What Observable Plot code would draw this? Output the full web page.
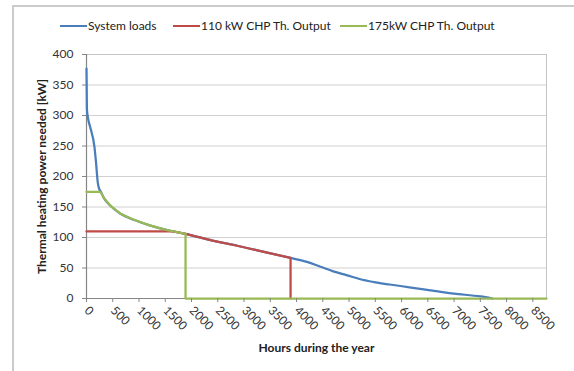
<!DOCTYPE html>
<html><head><meta charset="utf-8">
<script src="https://cdn.jsdelivr.net/npm/d3@7"></script>
<script src="https://cdn.jsdelivr.net/npm/@observablehq/plot@0.6"></script>
<style>
body{margin:0;background:#fff;}
#wrap{position:relative;width:574px;height:371px;overflow:hidden;font-family:Lato, sans-serif;}
#frame{position:absolute;left:12px;top:5px;width:600px;height:400px;border:2px solid #cbcbcb;}
.leg{position:absolute;top:19px;font-size:12px;line-height:14px;color:#222;display:flex;align-items:center;white-space:nowrap}
.leg i{display:inline-block;width:27px;height:2.5px;margin-right:1px}
#chart{position:absolute;left:0;top:0}
</style></head>
<body>
<div id="wrap">
  <div id="frame"></div>
  <div id="chart"></div>
  <div id="legend"></div>
</div>
<script>
// Series names and colours
const seriesNames = ["System loads", "110 kW CHP Th. Output", "175kW CHP Th. Output"];
const seriesColors = ["#4a7ebb", "#be4b48", "#98b954"];

// System loads (load duration curve)
const loadHours = [0, 8, 30, 70, 152, 178, 215, 240, 267, 330, 457, 648, 901, 1219, 1537, 1886, 2400, 2870, 3400, 3886, 4200, 4457, 4700, 4965, 5200, 5473, 5981, 6489, 6997, 7505, 7727];
const loadKW    = [377, 310, 295, 281, 248, 226, 190, 180, 176, 165, 152, 139, 129, 119.5, 112, 106, 95, 86.5, 76, 66.5, 60, 52, 44.5, 38, 32, 27, 20.5, 14, 8, 3.3, 0];

// 110 kW CHP thermal output
const chp110Hours = [0, 1650, 1886, 2400, 2870, 3400, 3886, 3886];
const chp110KW    = [110, 110, 106, 95, 86.5, 76, 66.5, 0];

// 175 kW CHP thermal output
const chp175Hours = [0, 267, 330, 457, 648, 901, 1219, 1537, 1886, 1886, 8760];
const chp175KW    = [175, 175, 165, 152, 139, 129, 119.5, 112, 106, 0, 0];

// Axis ticks
const xTicks = d3.range(0, 8501, 500);
const yTicks = d3.range(0, 401, 50);
const xTitle = "Hours during the year";
const yTitle = "Thermal heating power needed [kW]";

const zip = (h, v) => h.map((d, i) => ({h: d, v: v[i]}));
const load = zip(loadHours, loadKW);
const c110 = zip(chp110Hours, chp110KW);
const c175 = zip(chp175Hours, chp175KW);

const chart = Plot.plot({
  width: 574, height: 371,
  marginLeft: 86, marginRight: 28, marginTop: 54, marginBottom: 73,
  style: {fontFamily: "Lato, sans-serif", fontSize: "12px", color: "#333", background: "transparent"},
  x: {domain: [0, 8760]},
  y: {domain: [0, 400]},
  marks: [
    Plot.gridY(yTicks, {stroke: "#d0d0d0", strokeOpacity: 1}),
    Plot.frame({stroke: "#c4c4c4"}),
    Plot.ruleX([0], {stroke: "#868686", strokeWidth: 1.2}),
    Plot.ruleY([0], {stroke: "#868686", strokeWidth: 1.2}),
    Plot.line(load, {x: "h", y: "v", stroke: seriesColors[0], strokeWidth: 2.25, curve: "monotone-x"}),
    Plot.line(c110, {x: "h", y: "v", stroke: seriesColors[1], strokeWidth: 2.25}),
    Plot.line(c175, {x: "h", y: "v", stroke: seriesColors[2], strokeWidth: 2.25}),
    Plot.axisY({ticks: yTicks, tickSize: 4, tickPadding: 9, stroke: "#868686", label: null, fill: "#333"}),
    Plot.axisX({ticks: xTicks, tickSize: 4, tickRotate: 45, tickPadding: 6, tickFormat: d => String(d), stroke: "#868686", label: null, fill: "#333"}),
    Plot.text([xTitle], {frameAnchor: "bottom", dy: 53.5, fontWeight: "bold", fill: "#222", text: d => d}),
    Plot.text([yTitle], {frameAnchor: "left", rotate: -90, dx: -44, textAnchor: "middle", fontWeight: "bold", fill: "#222", text: d => d})
  ]
});
document.getElementById("chart").appendChild(chart);

const legendLeft = [60, 173, 340];
const legend = document.getElementById("legend");
seriesNames.forEach((name, i) => {
  const item = document.createElement("div");
  item.className = "leg";
  item.style.left = legendLeft[i] + "px";
  item.innerHTML = `<i style="background:${seriesColors[i]}"></i><span></span>`;
  item.querySelector("span").textContent = name;
  legend.appendChild(item);
});
</script>
</body></html>
